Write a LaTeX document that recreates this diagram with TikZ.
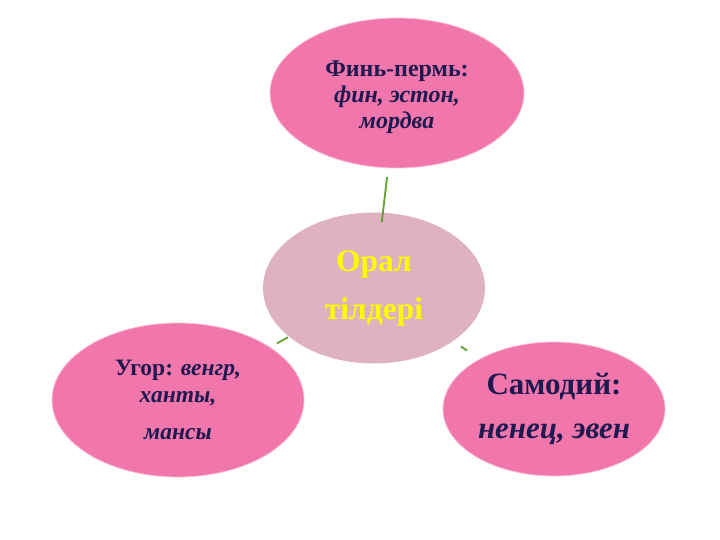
\documentclass[tikz,border=0pt]{standalone}
\usepackage{fontspec}
\setmainfont{Liberation Serif}
\usetikzlibrary{shapes.geometric,calc}
\definecolor{pinkfill}{RGB}{240,118,172}
\definecolor{pinkrim}{RGB}{248,190,215}
\definecolor{centerfill}{RGB}{222,178,192}
\definecolor{navytext}{RGB}{30,26,80}
\definecolor{oralyellow}{RGB}{255,250,0}
\definecolor{linkgreen}{RGB}{98,160,50}
\tikzset{
  leaf/.style={ellipse, fill=pinkfill, draw=pinkrim, line width=0.8pt, inner sep=0pt,
    align=center, text=navytext, font=\bfseries},
  hub/.style={ellipse, fill=centerfill, draw=none, inner sep=0pt,
    align=center, text=oralyellow, font=\bfseries},
  link/.style={draw=linkgreen, line width=1.8pt}
}
\begin{document}
\begin{tikzpicture}[x=1pt,y=-1pt]
\useasboundingbox (0,0) rectangle (720,540);
\fill[white] (0,0) rectangle (720,540);
\node[leaf, minimum width=254, minimum height=150] (fin) at (397,93) {};
\node[text=navytext, align=center, inner sep=0pt,
  font=\bfseries\fontsize{24}{26}\selectfont] (fintext) at (397,97)
  {Финь-пермь:\\\itshape фин, эстон,\\\itshape мордва};
\node[hub, minimum width=222, minimum height=151,
  font=\bfseries\fontsize{31.5}{48}\selectfont] (oral) at (374,288)
  {Орал\\тілдері};
\node[leaf, minimum width=252, minimum height=154,
  font=\bfseries\fontsize{23.5}{27}\selectfont] (ugor) at (178,400)
  {Угор: \itshape венгр,\\\itshape ханты,\\[10pt]\itshape мансы};
\node[leaf, minimum width=222, minimum height=134,
  font=\bfseries\fontsize{31}{44}\selectfont] (samo) at (554,409)
  {Самодий:\\\itshape ненец, эвен};
\coordinate (a1) at ($(fin.center)!0.431!(oral.center)$);
\coordinate (a2) at ($(fin.center)!0.662!(oral.center)$);
\coordinate (b1) at ($(oral.center)!0.439!(ugor.center)$);
\coordinate (b2) at ($(oral.center)!0.495!(ugor.center)$);
\coordinate (c1) at ($(oral.center)!0.483!(samo.center)$);
\coordinate (c2) at ($(oral.center)!0.517!(samo.center)$);
\draw[link] (a1) -- (a2);
\draw[link] (b1) -- (b2);
\draw[link] (c1) -- (c2);
\end{tikzpicture}
\end{document}
